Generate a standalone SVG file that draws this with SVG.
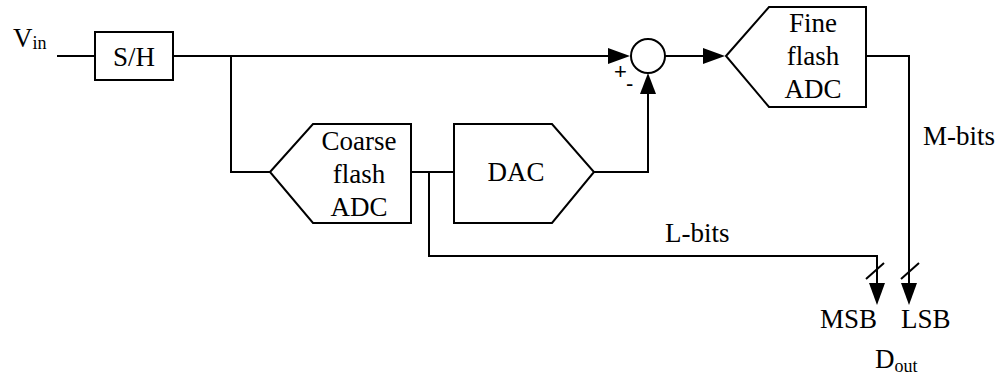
<svg xmlns="http://www.w3.org/2000/svg" width="1006" height="376" viewBox="0 0 1006 376">
<style>
.s{fill:#fff;stroke:#000;stroke-width:2}
.w{fill:none;stroke:#000;stroke-width:2}
.t{font-size:27px;fill:#000}
.m{text-anchor:middle}
.sub{font-size:18px}
.sg{font-size:22px;fill:#000}
.ah{fill:#000;stroke:none}
</style>
<rect width="1006" height="376" fill="#fff"/>
<g id="connectors">
<path class="w" d="M57 56H95"/>
<path class="w" d="M173 56H610"/>
<path class="w" d="M231 56V172H270"/>
<path class="w" d="M411 172H454"/>
<path class="w" d="M429 172V256H877V285"/>
<path class="w" d="M594 172H648V94"/>
<path class="w" d="M665 56H705"/>
<path class="w" d="M866 56H909V285"/>
<path class="w" d="M866 279L884 263M901 279L919 263"/>
<polygon class="ah" points="608,48 630,56 608,64"/>
<polygon class="ah" points="640,94 648,73 656,94"/>
<polygon class="ah" points="703,48 725,56 703,64"/>
<polygon class="ah" points="869,283 877,305 885,283"/>
<polygon class="ah" points="901,283 909,305 917,283"/>
</g>
<g id="vin" style="font-family:'Liberation Serif',serif"><text class="t" x="13" y="47">V<tspan class="sub" dy="2">in</tspan></text></g>
<g id="sh" style="font-family:'Liberation Serif',serif"><rect class="s" x="95" y="32" width="78" height="48"/><text class="t m" x="134" y="66">S/H</text></g>
<g id="coarse" style="font-family:'Liberation Serif',serif"><polygon class="s" points="270,172 313,124 411,124 411,223 313,223"/>
<text class="t m" x="359" y="150">Coarse</text><text class="t m" x="359" y="183">flash</text><text class="t m" x="359" y="216">ADC</text></g>
<g id="dac" style="font-family:'Liberation Serif',serif"><polygon class="s" points="454,124 552,124 594,172 552,223 454,223"/><text class="t m" x="516" y="181">DAC</text></g>
<g id="sum" style="font-family:'Liberation Sans',sans-serif"><circle class="s" cx="648" cy="56" r="17"/><text class="sg" x="614" y="79">+</text><text class="sg" x="626" y="91">-</text></g>
<g id="fine" style="font-family:'Liberation Serif',serif"><polygon class="s" points="726,56 769,7 866,7 866,107 769,107"/>
<text class="t m" x="813" y="32">Fine</text><text class="t m" x="813" y="65">flash</text><text class="t m" x="813" y="98">ADC</text></g>
<g id="labels" style="font-family:'Liberation Serif',serif">
<text class="t" x="923" y="145">M-bits</text>
<text class="t" x="665" y="242">L-bits</text>
<text class="t" x="820" y="328">MSB</text>
<text class="t" x="901" y="328">LSB</text>
<text class="t" x="875" y="368">D<tspan class="sub" dy="4">out</tspan></text>
</g>
</svg>
